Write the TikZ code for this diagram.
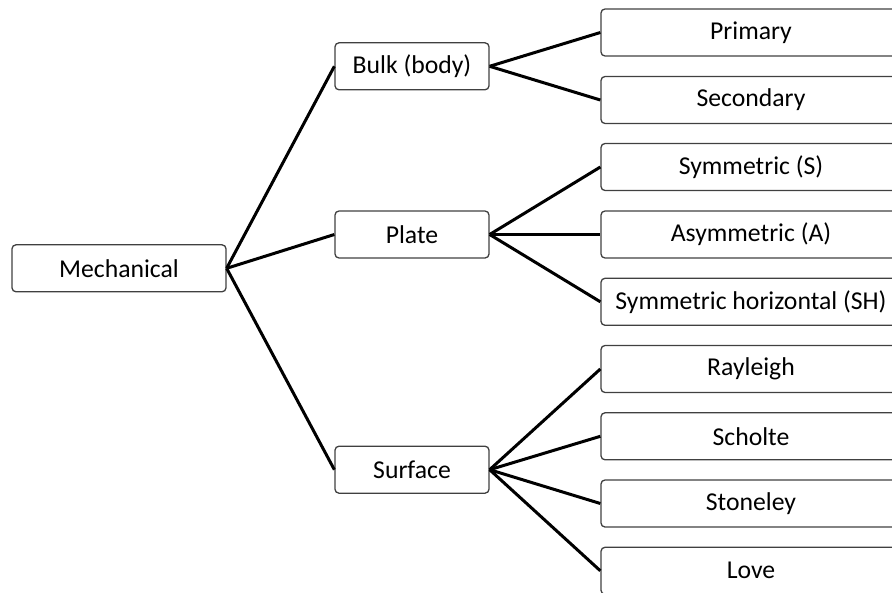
\documentclass[tikz,border=0pt]{standalone}
\usepackage{fontspec}
\setmainfont{Carlito}
\begin{document}
\begin{tikzpicture}[x=1pt,y=-1pt,
  box/.style={draw=black!75,line width=1.3pt,rounded corners=4pt,minimum height=47pt,inner sep=0pt,font=\fontsize{25.7}{30}\selectfont},
  lbox/.style={box,minimum width=214pt},
  mbox/.style={box,minimum width=154pt},
  rbox/.style={box,minimum width=300pt},
  conn/.style={line width=3pt,black}]
\useasboundingbox (0,0) rectangle (892,592);
\begin{scope}
\clip (0,0) rectangle (892,592);
\node[lbox] (mech) at (119,268.3) {Mechanical};
\node[mbox] (bulk) at (412,66.3) {Bulk (body)};
\node[mbox] (plate) at (412,234.5) {Plate};
\node[mbox] (surf) at (412,469.7) {Surface};
\node[rbox] (prim) at (751,32.5) {Primary};
\node[rbox] (sec) at (751,100) {Secondary};
\node[rbox] (sym) at (751,167) {Symmetric (S)};
\node[rbox] (asym) at (751,234.5) {Asymmetric (A)};
\node[rbox] (sh) at (751,301.8) {Symmetric horizontal (SH)};
\node[rbox] (ray) at (751,369) {Rayleigh};
\node[rbox] (sch) at (751,436.3) {Scholte};
\node[rbox] (sto) at (751,503.5) {Stoneley};
\node[rbox] (love) at (751,570.8) {Love};
\end{scope}
\foreach \t in {bulk,plate,surf} \draw[conn] (mech.east) -- (\t.west);
\foreach \t in {prim,sec} \draw[conn] (bulk.east) -- (\t.west);
\foreach \t in {sym,asym,sh} \draw[conn] (plate.east) -- (\t.west);
\foreach \t in {ray,sch,sto,love} \draw[conn] (surf.east) -- (\t.west);
\end{tikzpicture}
\end{document}
